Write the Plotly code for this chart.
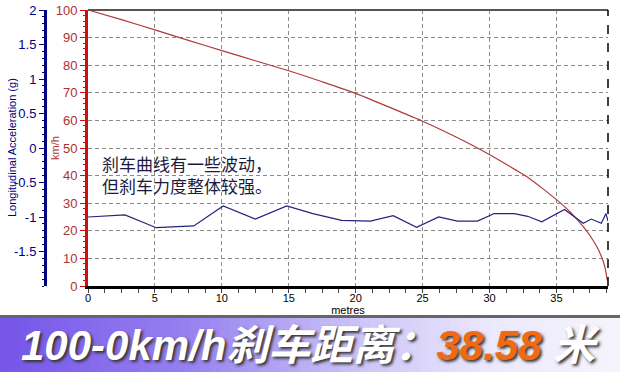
import plotly.graph_objects as go

# ---- data ----
speed_m = [0, 2.5, 5, 7.5, 10, 12.5, 15, 17.5, 20, 22.5, 25, 27.5, 29.1, 30.5, 32, 33, 34, 35, 35.5, 36, 36.5, 37, 37.5, 38.0, 38.35, 38.6, 38.8]
speed_kmh = [100, 96.5, 92.8, 89, 85.3, 81.6, 78, 74, 69.8, 64.8, 59.7, 54.0, 50.0, 46.2, 41.9, 38.9, 35.2, 31.3, 29.2, 26.9, 24.3, 21.5, 18.3, 14.4, 10.8, 7.2, 2]

acc_m = [0, 2.76, 5.1, 7.9, 10.1, 12.5, 14.85, 16.8, 18.95, 20.4, 21.1, 22.8, 24.55, 26.2, 27.6, 29.1,
         30.35, 31.85, 32.85, 33.9, 35.0, 35.6, 37.0, 37.6, 38.35, 38.7, 38.85]
acc_g = [-1.00, -0.97, -1.155, -1.13, -0.84, -1.03, -0.84, -0.95, -1.05, -1.06, -1.06, -0.98, -1.15, -1.00, -1.06, -1.06,
         -0.95, -0.95, -0.99, -1.07, -0.95, -0.89, -1.09, -1.03, -1.09, -0.95, -1.06]

x_ticks = [0, 5, 10, 15, 20, 25, 30, 35]
kmh_ticks = [0, 10, 20, 30, 40, 50, 60, 70, 80, 90, 100]
g_ticks = [-1.5, -1, -0.5, 0, 0.5, 1, 1.5, 2]
g_labels = ["-1.5", "-1", "-0.5", "0", "0.5", "1", "1.5", "2"]

W, H = 620, 372
x0, x1 = 88 / W, 608 / W
y0, y1 = (H - 286) / H, (H - 10) / H

fig = go.Figure()
fig.add_trace(go.Scatter(x=speed_m, y=speed_kmh, mode="lines", line=dict(color="#b03a3a", width=1.2),
                         yaxis="y", line_shape="spline", line_smoothing=0.6, hoverinfo="skip"))
fig.add_trace(go.Scatter(x=acc_m, y=acc_g, mode="lines", line=dict(color="#23237f", width=1.2),
                         yaxis="y2", hoverinfo="skip"))

axfont = dict(family="Arial, Liberation Sans", size=12)
grid_dash = "4px,3px"

fig.update_layout(
    width=W, height=H, margin=dict(l=0, r=0, t=0, b=0, autoexpand=False),
    paper_bgcolor="white", plot_bgcolor="white", showlegend=False,
    xaxis=dict(domain=[x0, x1], range=[0, 38.85], tickvals=x_ticks, ticktext=[str(v) for v in x_ticks],
               showline=True, linecolor="black", linewidth=3, ticks="", tickfont=dict(axfont, size=11, color="black"),
               showgrid=True, gridcolor="#8a8a8a", griddash=grid_dash, gridwidth=1, zeroline=False,
               minor=dict(dtick=1.25, tick0=0, ticks="outside", ticklen=4, tickcolor="#444", showgrid=False),
               title=dict(text="metres", font=dict(axfont, size=11, color="black"), standoff=4),
               anchor="y", automargin=False),
    yaxis=dict(domain=[y0, y1], range=[0, 100], tickvals=kmh_ticks, showline=True, linecolor="#cc1010",
               linewidth=3, ticks="outside", ticklen=5, tickcolor="#cc1010",
               tickfont=dict(axfont, size=13, color="#b03030"), showgrid=True, gridcolor="#8a8a8a", griddash=grid_dash,
               zeroline=False, minor=dict(dtick=2, ticks="outside", ticklen=2, tickcolor="#cc1010", showgrid=False),
               anchor="x", automargin=False),
    yaxis2=dict(overlaying="y", anchor="free", position=45 / W, side="left", range=[-2, 2],
                tickvals=g_ticks, ticktext=g_labels, showline=True, linecolor="#000080", linewidth=3,
                ticks="outside", ticklen=5, tickcolor="#000080", tickfont=dict(axfont, size=13, color="#000080"),
                showgrid=False, zeroline=False, automargin=False,
                minor=dict(dtick=0.1, ticks="outside", ticklen=2, tickcolor="#000080")),
)

# axis titles placed as rotated annotations
fig.add_annotation(xref="paper", yref="paper", x=55 / W, y=(H - 148) / H, text="km/h", textangle=-90,
                   xanchor="center", yanchor="middle",
                   showarrow=False, font=dict(axfont, size=11, color="#b03030"))
fig.add_annotation(xref="paper", yref="paper", x=12 / W, y=(H - 148) / H, text="Longitudinal Acceleration (g)",
                   xanchor="center", yanchor="middle",
                   textangle=-90, showarrow=False, font=dict(axfont, size=11, color="#000080"))

shapes = []
shapes.append(dict(type="line", xref="paper", yref="paper", x0=x0, x1=x1, y0=y1, y1=y1,
                   line=dict(color="#555", width=2)))
shapes.append(dict(type="line", xref="paper", yref="paper", x0=x1, x1=x1, y0=y0, y1=y1,
                   line=dict(color="black", width=1.5, dash="dash")))

# banner gradient
stops = [(0, (118, 85, 232)), (0.3, (150, 128, 240)), (0.6, (208, 200, 248)), (0.8, (236, 233, 252)), (1.0, (245, 244, 252))]
def col(t):
    for i in range(len(stops) - 1):
        a, ca = stops[i]
        b, cb = stops[i + 1]
        if a <= t <= b:
            f = (t - a) / (b - a)
            return "rgb(%d,%d,%d)" % tuple(round(ca[k] + (cb[k] - ca[k]) * f) for k in range(3))
    return "rgb(245,244,252)"
N = 62
ban_top = (H - 318) / H
for i in range(N):
    shapes.append(dict(type="rect", xref="paper", yref="paper", x0=i / N, x1=(i + 1) / N + 0.002,
                       y0=0, y1=ban_top, fillcolor=col((i + 0.5) / N), line=dict(width=0), layer="below"))
shapes.append(dict(type="rect", xref="paper", yref="paper", x0=0, x1=1, y0=ban_top, y1=ban_top + 3 / H,
                   fillcolor="#666", line=dict(width=0)))
fig.update_layout(shapes=shapes)

fig.add_annotation(xref="paper", yref="paper", x=100 / W, y=(H - 174) / H, xanchor="left", yanchor="middle",
                   showarrow=False, align="left",
                   text="刹车曲线有一些波动，<br>但刹车力度整体较强。",
                   font=dict(family="Noto Sans CJK SC", size=17, color="#1a1a40"))

fig.add_annotation(xref="paper", yref="paper", x=0.5, y=(H - 345) / H, xanchor="center", yanchor="middle",
                   showarrow=False,
                   text="<b><i>100-0km/h刹车距离：<span style='color:#f26a10'>38.58</span> 米</i></b>",
                   font=dict(family="Arial Black, Liberation Sans, Noto Sans CJK SC", size=42, color="white",
                             shadow="2px 2px 3px #333"))

fig.write_html("out.html")
